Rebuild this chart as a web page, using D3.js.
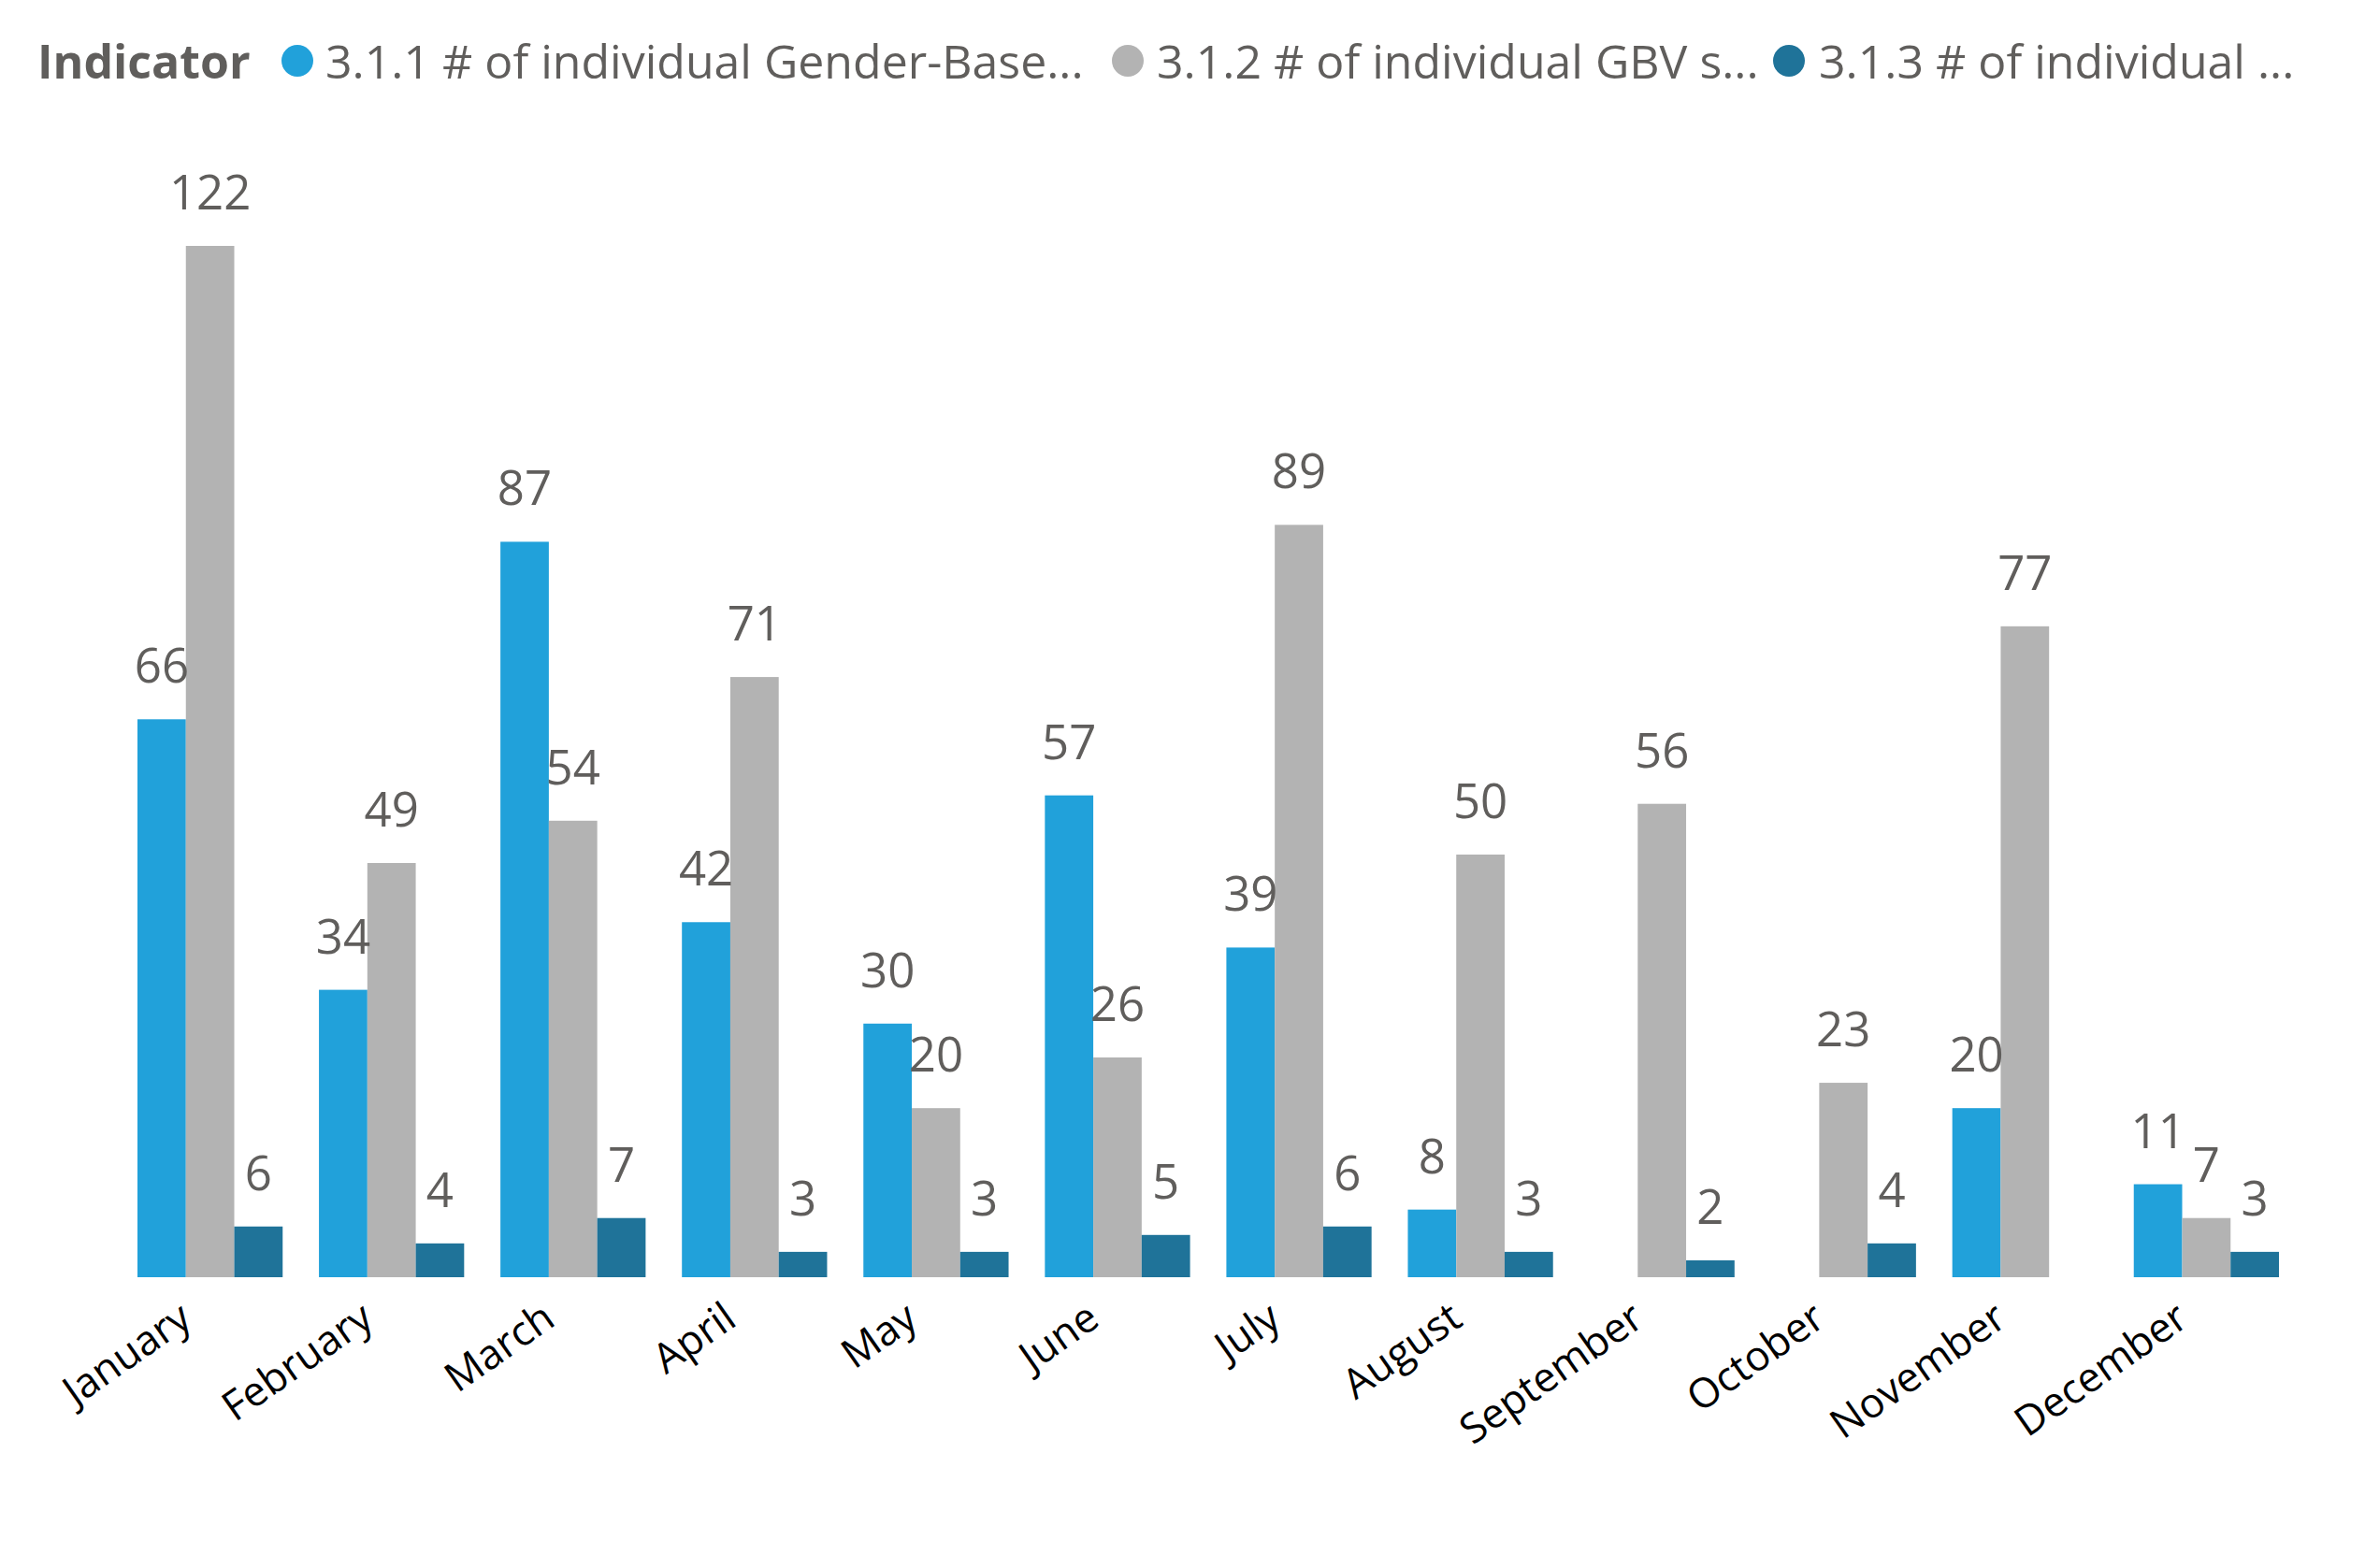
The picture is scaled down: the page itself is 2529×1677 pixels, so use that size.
<!DOCTYPE html>
<html>
<head>
<meta charset="utf-8">
<script src="https://cdn.jsdelivr.net/npm/d3@7"></script>
<style>
  html, body { margin: 0; padding: 0; background: #ffffff; }
  svg { display: block; }
  text { font-family: "Open Sans", "Noto Sans", sans-serif; }
</style>
</head>
<body>
<svg id="chart" width="2529" height="1677"></svg>
<script>
// ---- data ----
const months = ["January","February","March","April","May","June","July","August","September","October","November","December"];
const seriesNames = [
  "3.1.1 # of individual Gender-Base...",
  "3.1.2 # of individual GBV s...",
  "3.1.3 # of individual ..."
];
const legendTitle = "Indicator";
const series311 = [66, 34, 87, 42, 30, 57, 39, 8, null, null, 20, 11];
const series312 = [122, 49, 54, 71, 20, 26, 89, 50, 56, 23, 77, 7];
const series313 = [6, 4, 7, 3, 3, 5, 6, 3, 2, 4, null, 3];
const seriesColors = ["#21a1da", "#b3b3b3", "#1f7399"];

const allSeries = [series311, series312, series313];
const keys = ["s1", "s2", "s3"];

// ---- layout ----
const svg = d3.select("#chart");
const baseY = 1366;
const topY = 263;

const x0 = d3.scaleBand().domain(months).range([147, 2437]).paddingInner(0.2).paddingOuter(0);
const x1 = d3.scaleBand().domain(keys).range([0, x0.bandwidth()]).padding(0);
const maxVal = d3.max(allSeries.flat().filter(v => v != null));
const y = d3.scaleLinear().domain([0, maxVal]).range([baseY, topY]);
const color = d3.scaleOrdinal().domain(keys).range(seriesColors);

const rows = months.map((m, i) => ({
  month: m,
  vals: keys.map((k, j) => ({ key: k, value: allSeries[j][i] }))
}));

// ---- bars ----
const groups = svg.append("g").selectAll("g.grp")
  .data(rows).join("g")
  .attr("class", "grp")
  .attr("transform", d => `translate(${x0(d.month)},0)`);

groups.selectAll("rect")
  .data(d => d.vals.filter(v => v.value != null))
  .join("rect")
  .attr("x", d => x1(d.key))
  .attr("y", d => y(d.value))
  .attr("width", x1.bandwidth())
  .attr("height", d => baseY - y(d.value))
  .attr("fill", d => color(d.key));

// ---- data labels ----
groups.selectAll("text.lbl")
  .data(d => d.vals.filter(v => v.value != null))
  .join("text")
  .attr("class", "lbl")
  .attr("x", d => x1(d.key) + x1.bandwidth() / 2)
  .attr("y", d => y(d.value) - 39)
  .attr("text-anchor", "middle")
  .attr("font-size", 51)
  .attr("fill", "#605e5c")
  .text(d => d.value);

// ---- x axis ----
const xAxis = svg.append("g")
  .attr("transform", `translate(0,${baseY})`)
  .call(d3.axisBottom(x0).tickSize(0).tickPadding(0));
xAxis.select(".domain").remove();
xAxis.selectAll(".tick text")
  .attr("y", 0)
  .attr("dy", 0)
  .attr("x", 0)
  .attr("text-anchor", "end")
  .attr("transform", "translate(-17,50) rotate(-35)")
  .attr("font-family", "'Open Sans', 'Noto Sans', sans-serif")
  .attr("font-size", 44)
  .attr("fill", "#000000");

// ---- legend ----
const legend = svg.append("g").attr("transform", "translate(0,65)");
legend.append("text")
  .attr("x", 40).attr("y", 0)
  .attr("dominant-baseline", "central")
  .attr("font-size", 50)
  .attr("font-weight", "bold")
  .attr("fill", "#605e5c")
  .text(legendTitle);

const legendCx = [318, 1206, 1913];
const legendTx = [348, 1237, 1945];
seriesNames.forEach((name, i) => {
  legend.append("circle")
    .attr("cx", legendCx[i]).attr("cy", 0).attr("r", 17)
    .attr("fill", seriesColors[i]);
  legend.append("text")
    .attr("x", legendTx[i]).attr("y", 0)
    .attr("dominant-baseline", "central")
    .attr("font-size", 50)
    .attr("fill", "#605e5c")
    .text(name);
});
</script>
</body>
</html>
